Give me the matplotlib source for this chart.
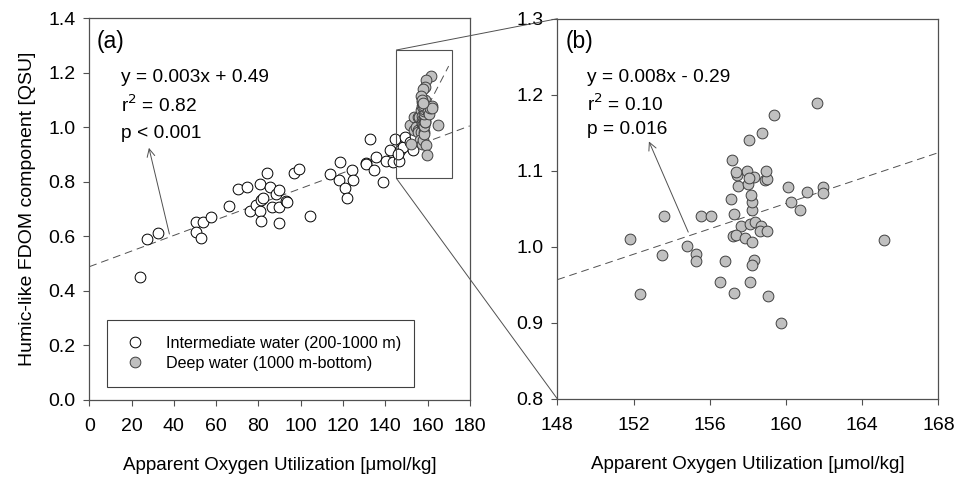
import numpy as np
import matplotlib
matplotlib.use("Agg")
import matplotlib.pyplot as plt
from matplotlib.lines import Line2D
from matplotlib.patches import Rectangle, ConnectionPatch

plt.rcParams['font.family'] = ['Liberation Sans', 'DejaVu Sans']

# Intermediate water (200-1000 m): AOU, humic-like FDOM
inter_aou = [24.0, 27.1, 32.3, 50.3, 50.4, 53.0, 54.0, 57.5, 66.2, 70.5,
             74.6, 75.8, 78.8, 80.9, 80.9, 81.4, 82.4, 81.4, 83.9, 85.4,
             86.2, 88.3, 89.9, 89.9, 89.9, 93.0, 93.7, 96.8, 99.0, 104.3,
             114.1, 118.2, 118.7, 121.1, 122.0, 124.1, 124.6, 130.8, 131.1, 133.0,
             134.6, 135.5, 139.0, 140.6, 142.2, 144.4, 143.8, 146.3, 146.9, 148.5,
             149.3, 146.1, 151.6, 153.2, 154.0]
inter_fdom = [0.452, 0.589, 0.611, 0.652, 0.618, 0.594, 0.653, 0.670, 0.713, 0.774,
              0.781, 0.692, 0.716, 0.791, 0.692, 0.734, 0.741, 0.655, 0.834, 0.781,
              0.708, 0.756, 0.771, 0.707, 0.651, 0.730, 0.728, 0.831, 0.846, 0.676,
              0.828, 0.806, 0.874, 0.778, 0.741, 0.844, 0.806, 0.869, 0.867, 0.956,
              0.843, 0.892, 0.800, 0.875, 0.916, 0.958, 0.873, 0.875, 0.916, 0.928,
              0.965, 0.904, 0.947, 0.916, 0.967]

# Deep water (1000 m-bottom)
deep_aou = [151.83, 153.60, 153.51, 154.79, 155.28, 155.28, 155.53, 156.08, 156.79, 156.56,
            157.26, 158.10, 158.33, 158.24, 159.06, 159.73, 165.17, 157.12, 157.29, 157.63,
            157.21, 157.38, 157.85, 158.24, 158.12, 158.36, 158.71, 158.64, 158.99, 158.24,
            158.24, 158.17, 157.50, 158.03, 157.42, 157.94, 158.33, 158.90, 159.03, 158.94,
            160.13, 160.28, 160.72, 161.12, 161.93, 161.96, 161.65, 159.39, 158.76, 158.05,
            157.15, 157.38, 158.08, 152.34]
deep_fdom = [1.010, 1.040, 0.989, 1.001, 0.991, 0.982, 1.040, 1.040, 0.982, 0.954,
             0.939, 0.954, 0.983, 0.976, 0.935, 0.900, 1.009, 1.063, 1.043, 1.028,
             1.014, 1.015, 1.011, 1.006, 1.030, 1.032, 1.028, 1.021, 1.021, 1.048,
             1.059, 1.068, 1.080, 1.082, 1.095, 1.100, 1.092, 1.088, 1.089, 1.100,
             1.079, 1.059, 1.048, 1.072, 1.079, 1.071, 1.189, 1.173, 1.150, 1.140,
             1.114, 1.099, 1.090, 0.938]

# regression lines as drawn (slope, intercept)
fit_all = (0.00287, 0.489)
fit_deep = (0.00835, -0.279)
fit_deep_a = (0.015, -1.325)

edge = '#404040'
ms = 60

fig = plt.figure(figsize=(9.56, 4.8), dpi=100)
ax1 = fig.add_axes([0.0934, 0.1667, 0.398, 0.795])
ax2 = fig.add_axes([0.583, 0.169, 0.3985, 0.792])

# ---- panel (a)
xl = np.array([0, 180])
ax1.plot(xl, fit_all[0] * xl + fit_all[1], color='#505050', lw=0.7,
         ls=(0, (8, 5)), zorder=1)
xd = np.array([155, 170])
ax1.plot(xd, fit_deep_a[0] * xd + fit_deep_a[1], color='#505050', lw=0.7,
         ls=(0, (8, 5)), zorder=1)
ax1.scatter(inter_aou, inter_fdom, s=ms, facecolor='white', edgecolor='black',
            linewidth=0.7, zorder=2)
ax1.scatter(deep_aou, deep_fdom, s=ms, facecolor='#c0c0c0', edgecolor=edge,
            linewidth=0.7, zorder=3)
ax1.add_patch(Rectangle((145.3, 0.813), 26.3, 0.471, fill=False,
                        edgecolor='#505050', lw=0.8, zorder=4))

ax1.set_xlim(0, 180)
ax1.set_ylim(0, 1.4)
ax1.set_xticks(np.arange(0, 181, 20))
ax1.set_yticks(np.arange(0, 1.41, 0.2))
ax1.set_yticklabels(['%.1f' % v for v in np.arange(0, 1.41, 0.2)])
ax1.set_xlabel('Apparent Oxygen Utilization [\u03bcmol/kg]', fontsize=13.5, labelpad=16)
ax1.set_ylabel('Humic-like FDOM component [QSU]', fontsize=14, labelpad=9)

ax1.text(0.019, 0.939, '(a)', transform=ax1.transAxes, fontsize=16.5,
         va='center', ha='left')
ax1.text(0.083, 0.845, 'y = 0.003x + 0.49', transform=ax1.transAxes,
         fontsize=13.8, va='center')
ax1.text(0.083, 0.772, 'r$^2$ = 0.82', transform=ax1.transAxes,
         fontsize=13.8, va='center')
ax1.text(0.083, 0.699, 'p < 0.001', transform=ax1.transAxes,
         fontsize=13.8, va='center')
ax1.annotate('', xy=(27.9, 0.935), xytext=(38.2, 0.599),
             arrowprops=dict(arrowstyle='->', color='#505050', lw=0.7,
                             mutation_scale=14))

handles = [Line2D([], [], ls='none', marker='o', ms=7.7, mfc='white',
                  mec='black', mew=0.7),
           Line2D([], [], ls='none', marker='o', ms=7.7, mfc='#c0c0c0',
                  mec=edge, mew=0.7)]
leg = ax1.legend(handles, ['Intermediate water (200-1000 m)',
                           'Deep water (1000 m-bottom)'],
                 loc='lower left', bbox_to_anchor=(0.047, 0.035, 0.807, 0.173),
                 mode='expand', borderaxespad=0, fontsize=11.6,
                 fancybox=False, framealpha=1, edgecolor='#404040',
                 handlelength=1.5, handletextpad=1.15, borderpad=1.0,
                 labelspacing=0.3)
leg.get_frame().set_linewidth(0.8)

# ---- panel (b)
xb = np.array([148, 168])
ax2.plot(xb, fit_deep[0] * xb + fit_deep[1], color='#505050', lw=0.7,
         ls=(0, (8, 5)), zorder=1)
ax2.scatter(deep_aou, deep_fdom, s=ms, facecolor='#c0c0c0', edgecolor=edge,
            linewidth=0.7, zorder=3)
ax2.set_xlim(148, 168)
ax2.set_ylim(0.8, 1.3)
ax2.set_xticks(np.arange(148, 169, 4))
ax2.set_yticks(np.arange(0.8, 1.31, 0.1))
ax2.set_yticklabels(['%.1f' % v for v in np.arange(0.8, 1.31, 0.1)])
ax2.set_xlabel('Apparent Oxygen Utilization [\u03bcmol/kg]', fontsize=13.5, labelpad=16)

ax2.text(0.023, 0.939, '(b)', transform=ax2.transAxes, fontsize=16.5,
         va='center', ha='left')
ax2.text(0.078, 0.845, 'y = 0.008x - 0.29', transform=ax2.transAxes,
         fontsize=13.8, va='center')
ax2.text(0.078, 0.775, 'r$^2$ = 0.10', transform=ax2.transAxes,
         fontsize=13.8, va='center')
ax2.text(0.078, 0.708, 'p = 0.016', transform=ax2.transAxes,
         fontsize=13.8, va='center')
ax2.annotate('', xy=(152.75, 1.142), xytext=(154.93, 1.016),
             arrowprops=dict(arrowstyle='->', color='#505050', lw=0.7,
                             mutation_scale=14))

for ax in (ax1, ax2):
    for sp in ax.spines.values():
        sp.set_color('#505050')
        sp.set_linewidth(0.9)
    ax.tick_params(direction='out', length=4, width=0.8, color='#505050',
                   labelsize=14)
    ax.tick_params(axis='x', pad=9)
    ax.tick_params(axis='y', pad=6)

# zoom connection lines
for ya, yb in ((1.284, 1.3), (0.813, 0.8)):
    con = ConnectionPatch(xyA=(145.3, ya), coordsA=ax1.transData,
                          xyB=(148, yb), coordsB=ax2.transData,
                          color='#505050', lw=0.7)
    fig.add_artist(con)

fig.savefig('out.png', dpi=100)
